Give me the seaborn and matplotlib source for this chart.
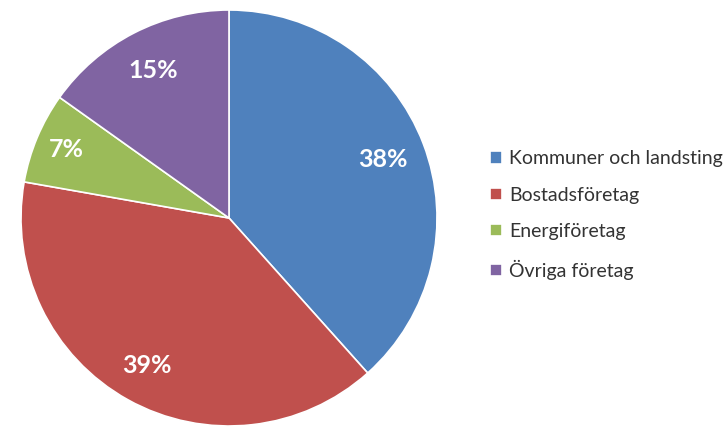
import numpy as np
import matplotlib
matplotlib.use("Agg")
import matplotlib.pyplot as plt
import seaborn as sns

categories = ["Kommuner och landsting", "Bostadsföretag", "Energiföretag", "Övriga företag"]
values = [38, 39, 7, 15]
pct_labels = ["38%", "39%", "7%", "15%"]
colors = ["#4F81BD", "#C0504D", "#9BBB59", "#8064A2"]

sns.set_theme(style="white")
plt.rcParams['font.family'] = ['Lato', 'DejaVu Sans']

fig = plt.figure(figsize=(7.27, 4.28), dpi=100)
ax = fig.add_axes([21/727, 2/428, 416/727, 416/428])
palette = sns.color_palette(colors)

wedges, texts = ax.pie(values, colors=palette, startangle=90, counterclock=False,
                       labels=pct_labels, labeldistance=0.8, radius=1.0,
                       wedgeprops=dict(edgecolor="white", linewidth=1.2),
                       textprops=dict(color="white", fontsize=18, fontweight="bold"))
dists = [0.79, 0.81, 0.85, 0.80]
for w, t, d in zip(wedges, texts, dists):
    ang = np.deg2rad((w.theta1 + w.theta2) / 2)
    t.set_position((d * np.cos(ang), d * np.sin(ang)))
    t.set_ha("center"); t.set_va("center")
ax.set_xlim(-1, 1); ax.set_ylim(-1, 1)
ax.set_aspect("equal")

leg = fig.legend(wedges, categories, loc="center left",
                 bbox_to_anchor=(490/727, (428-215)/428), frameon=False,
                 fontsize=14, handlelength=0.6, handleheight=0.6,
                 handletextpad=0.4, labelspacing=1.0, borderpad=0,
                 borderaxespad=0)
for t in leg.get_texts():
    t.set_color("#333333")

fig.savefig("out.png", dpi=100, facecolor="white")
